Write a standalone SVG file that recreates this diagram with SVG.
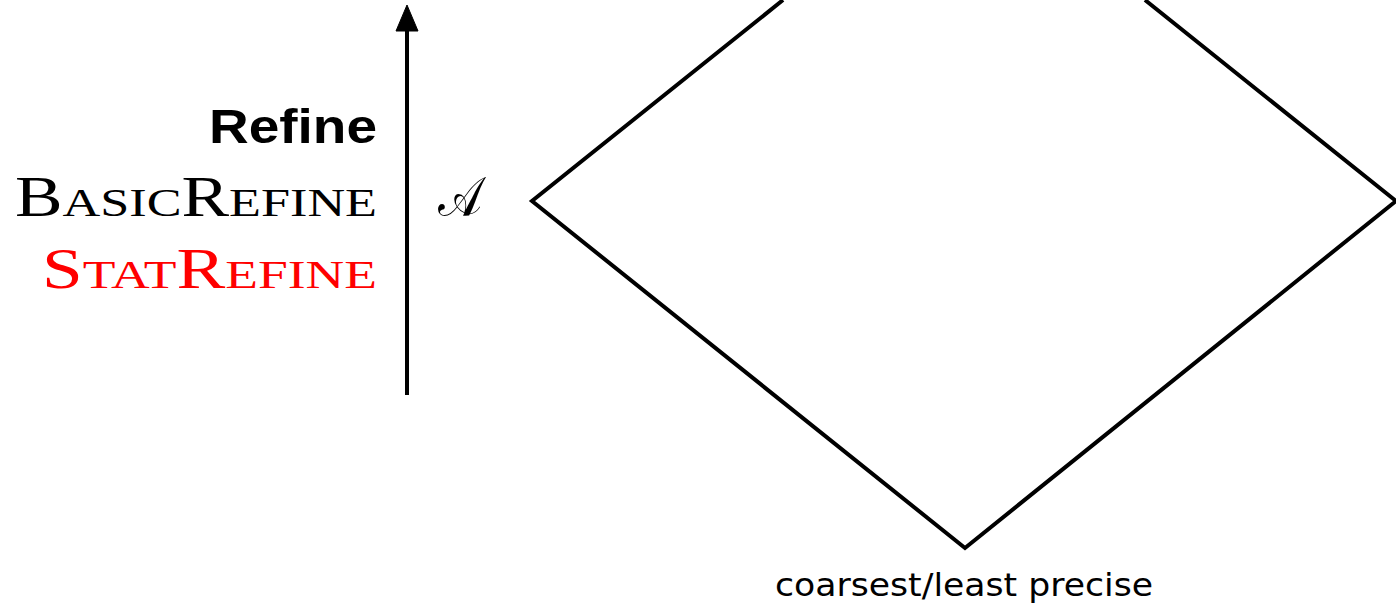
<svg xmlns="http://www.w3.org/2000/svg" width="1396" height="612" viewBox="0 0 1396 612">
<style>
.ln{fill:none;stroke:#000;stroke-width:4;stroke-linejoin:miter}
.sc{font-family:"Liberation Serif","DejaVu Serif",serif;font-size:56px}
.sm{font-size:41px}
</style>
<rect width="1396" height="612" fill="#fff"/>
<g id="connectors">
<line x1="407" y1="395" x2="407" y2="30" stroke="#000" stroke-width="4"/>
<path d="M407,5 L396,31 L418,31 Z" fill="#000" stroke="#000" stroke-width="1" stroke-linejoin="round"/>
</g>
<g id="lattice">
<path class="ln" d="M783,0 L532,201 L965,548 L1396,201 L1145,0"/>
</g>
<g id="labels">
<text x="377" y="143" text-anchor="end" font-family="'Liberation Sans',Arial,sans-serif" font-weight="bold" font-size="49" textLength="168" lengthAdjust="spacingAndGlyphs">Refine</text>
<text class="sc" x="377" y="216" text-anchor="end" textLength="362" lengthAdjust="spacingAndGlyphs">B<tspan class="sm">ASIC</tspan>R<tspan class="sm">EFINE</tspan></text>
<text class="sc" x="377" y="288" text-anchor="end" fill="#ff0000" textLength="335" lengthAdjust="spacingAndGlyphs">S<tspan class="sm">TAT</tspan>R<tspan class="sm">EFINE</tspan></text>
<text x="438" y="216" font-family="'DejaVu Serif',serif" font-size="56" textLength="44" lengthAdjust="spacingAndGlyphs">𝒜</text>
<text x="964" y="596" text-anchor="middle" font-family="'DejaVu Sans','Liberation Sans',sans-serif" font-size="32" textLength="378" lengthAdjust="spacingAndGlyphs">coarsest/least precise</text>
</g>
</svg>
